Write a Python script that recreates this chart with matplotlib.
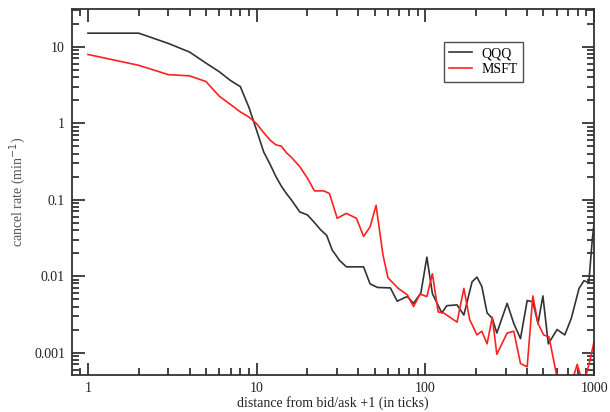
import matplotlib.pyplot as plt
from matplotlib.ticker import LogLocator, NullFormatter, FixedLocator, FixedFormatter

plt.rcParams['font.family'] = ['Liberation Serif', 'DejaVu Serif']

# cancel rate vs. distance from best quote
qqq_x = [1, 2, 3, 4, 5, 6, 7, 8, 9, 10, 11, 12, 13, 14, 15, 16, 18, 20, 22, 24,
         26, 28, 31, 34, 43, 47, 52, 62, 68, 78, 85, 94, 102, 110, 125, 134, 154,
         169, 189, 202, 216, 232, 249, 265, 305, 334, 366, 401, 433, 465, 497,
         535, 603, 670, 732, 814, 870, 930, 975, 1000]
qqq_y = [15, 15, 11, 8.5, 6.1, 4.7, 3.6, 3.0, 1.6, 0.8, 0.42, 0.29, 0.2, 0.15,
         0.12, 0.1, 0.069, 0.063, 0.05, 0.04, 0.034, 0.022, 0.016, 0.0132,
         0.0132, 0.0079, 0.0071, 0.0070, 0.0047, 0.0054, 0.0044, 0.0060, 0.0177,
         0.0059, 0.0033, 0.0041, 0.0042, 0.0031, 0.0084, 0.0097, 0.0073, 0.0033,
         0.0028, 0.0018, 0.0044, 0.0024, 0.00152, 0.0048, 0.0046, 0.0024,
         0.0055, 0.0013, 0.0020, 0.0017, 0.0028, 0.0069, 0.0087, 0.0082, 0.03,
         0.05]

msft_x = [1, 2, 3, 4, 5, 6, 7, 8, 9, 10, 11, 12, 13, 14, 15, 16, 18, 20, 22, 25,
          27, 30, 34, 39, 43, 47, 51, 56, 60, 69, 78, 85, 93, 102, 110, 119, 128,
          154, 169, 183, 202, 216, 232, 249, 265, 305, 334, 366, 401, 433, 465,
          502, 540, 600, 680, 757, 794, 830, 870, 935, 1000]
msft_y = [7.9, 5.7, 4.3, 4.15, 3.5, 2.25, 1.75, 1.4, 1.2, 0.98, 0.75, 0.6, 0.52,
          0.5, 0.41, 0.36, 0.27, 0.19, 0.13, 0.13, 0.12, 0.057, 0.066, 0.057,
          0.033, 0.044, 0.084, 0.019, 0.0095, 0.0069, 0.0057, 0.0040, 0.0058,
          0.0054, 0.0107, 0.0034, 0.0033, 0.0025, 0.0069, 0.0027, 0.0017, 0.0019,
          0.0013, 0.0029, 0.00095, 0.0018, 0.0019, 0.00072, 0.00065, 0.0055,
          0.0024, 0.0017, 0.0016, 0.0005, 0.0002, 0.0005, 0.0007, 0.0005, 0.0004,
          0.00072, 0.0014]

fig = plt.figure(figsize=(6.1, 4.12), dpi=100)
ax = fig.add_axes([0.118, 0.09, 0.856, 0.888])

ax.plot(qqq_x, qqq_y, color='#333333', lw=1.2, label='QQQ')
ax.plot(msft_x, msft_y, color='#ff2020', lw=1.2, label='MSFT')

ax.set_xscale('log')
ax.set_yscale('log')
ax.set_xlim(0.804, 1000)
ax.set_ylim(0.00051, 31)

ax.xaxis.set_major_locator(FixedLocator([1, 10, 100, 1000]))
ax.xaxis.set_major_formatter(FixedFormatter(['1', '10', '100', '1000']))
ax.yaxis.set_major_locator(FixedLocator([0.001, 0.01, 0.1, 1, 10]))
ax.yaxis.set_major_formatter(FixedFormatter(['0.001', '0.01', '0.1', '1', '10']))
for a in (ax.xaxis, ax.yaxis):
    a.set_minor_locator(LogLocator(base=10, subs=range(2, 10), numticks=20))
    a.set_minor_formatter(NullFormatter())

ax.tick_params(which='both', direction='in', top=True, right=True, width=1.2,
               labelsize=10, colors='#222222')
ax.tick_params(which='major', length=9, pad=5)
ax.tick_params(which='minor', length=5)
for s in ax.spines.values():
    s.set_linewidth(1.3)
    s.set_color('#333333')

ax.set_xlabel('distance from bid/ask +1 (in ticks)', fontsize=10, labelpad=1,
              color='#222222')
ax.set_ylabel('cancel rate (min$^{-1}$)', fontsize=10, color='#555555',
              labelpad=4)

leg = ax.legend(loc='upper left', bbox_to_anchor=(0.699, 0.93), fontsize=10,
                frameon=True, fancybox=False, handlelength=1.6,
                handletextpad=0.7, borderpad=0.4, labelspacing=0.2)
leg.get_frame().set_edgecolor('#222222')
leg.get_frame().set_linewidth(1.0)

plt.savefig('out.png', dpi=100)
